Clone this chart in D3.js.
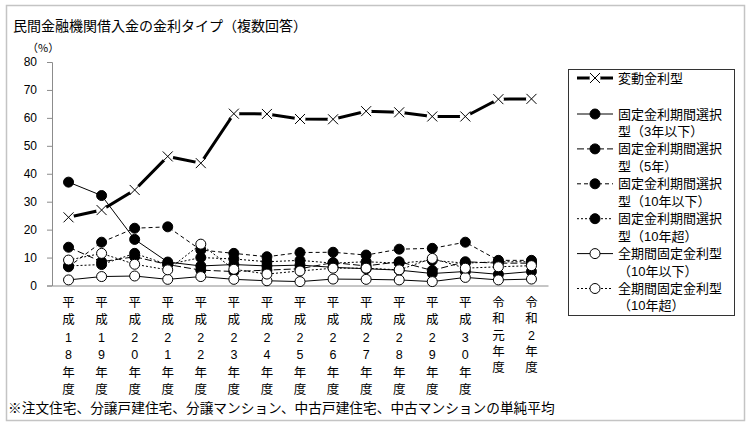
<!DOCTYPE html>
<html><head><meta charset="utf-8">
<script src="https://cdn.jsdelivr.net/npm/d3@7"></script>
<style>
html,body{margin:0;padding:0;background:#fff;}
text{font-family:"Noto Sans CJK JP","Liberation Sans",sans-serif;fill:#000;}
.num{font-family:"Liberation Sans",Arial,sans-serif;}
.stack{font-family:"Liberation Sans","Noto Sans CJK JP",sans-serif;}
</style></head>
<body><svg id="c" width="750" height="427"></svg>
<script>
const title = "民間金融機関借入金の金利タイプ（複数回答）";
const unitLabel = "（%）";
const footnote = "※注文住宅、分譲戸建住宅、分譲マンション、中古戸建住宅、中古マンションの単純平均";
const categories = ["平成18年度","平成19年度","平成20年度","平成21年度","平成22年度","平成23年度","平成24年度","平成25年度","平成26年度","平成27年度","平成28年度","平成29年度","平成30年度","令和元年度","令和2年度"];
const yTicks = [0,10,20,30,40,50,60,70,80];

const seriesNames = ["変動金利型","固定金利期間選択型（3年以下）","固定金利期間選択型（5年）","固定金利期間選択型（10年以下）","固定金利期間選択型（10年超）","全期間固定金利型（10年以下）","全期間固定金利型（10年超）"];
const legendLines = [["変動金利型"],["固定金利期間選択","型（3年以下）"],["固定金利期間選択","型（5年）"],["固定金利期間選択","型（10年以下）"],["固定金利期間選択","型（10年超）"],["全期間固定金利型","（10年以下）"],["全期間固定金利型","（10年超）"]];

const hendo      = [24.4, 27.0, 34.2, 46.2, 43.8, 61.5, 61.4, 59.6, 59.5, 62.4, 62.0, 60.5, 60.5, 66.7, 66.8];
const kotei3     = [37.0, 32.2, 16.5, 8.4, 7.0, 7.5, 7.0, 7.3, 6.5, 6.0, 5.5, 4.3, 5.0, 4.0, 5.0];
const kotei5     = [13.7, 8.5, 10.3, 7.5, 5.5, 5.0, 5.5, 6.0, 8.2, 7.0, 8.5, 5.4, 8.5, 8.0, 8.0];
const kotei10    = [6.7, 15.5, 20.5, 21.0, 12.7, 11.5, 10.3, 11.8, 11.9, 10.9, 13.0, 13.3, 15.5, 9.0, 9.0];
const kotei10over= [7.0, 7.5, 11.5, 7.5, 10.0, 9.5, 8.5, 9.0, 8.0, 8.5, 8.0, 9.0, 8.0, 8.5, 8.5];
const zenki10    = [2.0, 3.2, 3.4, 2.2, 3.2, 2.2, 1.7, 1.4, 2.3, 2.2, 2.0, 1.4, 2.9, 2.0, 2.3];
const zenki10over= [9.1, 11.5, 7.6, 5.6, 14.8, 5.8, 4.1, 5.2, 6.2, 6.2, 5.6, 9.7, 6.2, 6.7, 7.1];

const allValues = [hendo, kotei3, kotei5, kotei10, kotei10over, zenki10, zenki10over];
const styles = [
  {w:3, dash:null, marker:"x"},
  {w:1, dash:null, marker:"black"},
  {w:1, dash:"7,3", marker:"black"},
  {w:1, dash:"4,3", marker:"black"},
  {w:1, dash:"2,2", marker:"black"},
  {w:1, dash:null, marker:"white"},
  {w:1, dash:"2,2", marker:"white"}
];

const svg = d3.select("#c");
svg.append("rect").attr("x",6.5).attr("y",5.5).attr("width",738).attr("height",415)
  .attr("fill","none").attr("stroke","#c4c4c4").attr("stroke-width",1.5);

svg.append("text").attr("x",13).attr("y",25).attr("dominant-baseline","central")
  .style("font-size","14px").text(title);
svg.append("text").attr("x",27).attr("y",47).attr("dominant-baseline","central")
  .style("font-size","11px").text(unitLabel);

const x = d3.scaleBand().domain(categories).range([52,548]);
const y = d3.scaleLinear().domain([0,80]).range([285.5,62]);
const cx = c => x(c) + x.bandwidth()/2;

const yAxis = svg.append("g").attr("transform","translate(52,0)")
  .call(d3.axisLeft(y).tickValues(yTicks).tickSize(5).tickPadding(10).tickFormat(d3.format("d")));
yAxis.select(".domain").attr("stroke","#8c8c8c");
yAxis.selectAll(".tick line").attr("stroke","#8c8c8c");
yAxis.selectAll("text").attr("class","num").style("font-size","12px").attr("fill","#000");

const xAxis = svg.append("g").attr("transform","translate(0,285.5)")
  .call(d3.axisBottom(x).tickSize(0).tickFormat(""));
xAxis.select(".domain").attr("stroke","#8c8c8c");

categories.forEach(c => {
  const chars = Array.from(c);
  const step = chars.length >= 6 ? 17.4 : 16.3;
  const g = svg.append("g");
  chars.forEach((ch,i) => {
    g.append("text").attr("class","stack").attr("x",cx(c)).attr("y",303 + i*step)
      .attr("text-anchor","middle").attr("dominant-baseline","central")
      .style("font-size","12.5px").text(ch);
  });
});

function drawMarker(g, type, px, py){
  if(type === "x"){
    g.append("circle").attr("cx",px).attr("cy",py).attr("r",5.5).attr("fill","#fff");
    const s = 5;
    g.append("path").attr("d",`M${px-s},${py-s}L${px+s},${py+s}M${px-s},${py+s}L${px+s},${py-s}`)
      .attr("stroke","#000").attr("stroke-width",1).attr("fill","none");
  } else {
    g.append("circle").attr("cx",px).attr("cy",py).attr("r",5)
      .attr("fill", type === "black" ? "#000" : "#fff")
      .attr("stroke","#000").attr("stroke-width",1);
  }
}

const line = d3.line().x((d,i)=>cx(categories[i])).y(d=>y(d));
const order = [1,2,3,4,5,6,0];
order.forEach(si => {
  const vals = allValues[si], st = styles[si];
  const g = svg.append("g");
  g.append("path").datum(vals).attr("d",line).attr("fill","none")
    .attr("stroke","#000").attr("stroke-width",st.w)
    .attr("stroke-dasharray",st.dash);
  vals.forEach((v,i)=> drawMarker(g, st.marker, cx(categories[i]), y(v)));
});

const lg = svg.append("g");
lg.append("rect").attr("x",568.5).attr("y",69.5).attr("width",166).attr("height",246)
  .attr("fill","#fff").attr("stroke","#333").attr("stroke-width",1);
legendLines.forEach((lines, si) => {
  const st = styles[si];
  const yy = si === 0 ? 78 : 114 + (si-1)*2*17.45;
  lg.append("line").attr("x1",577).attr("x2",613).attr("y1",yy).attr("y2",yy)
    .attr("stroke","#000").attr("stroke-width",st.w).attr("stroke-dasharray",st.dash);
  drawMarker(lg, st.marker, 595, yy);
  lines.forEach((t,k) => {
    lg.append("text").attr("class","stack").attr("x",618).attr("y",yy + k*17.45).attr("dominant-baseline","central")
      .style("font-size","13px").text(t);
  });
});

svg.append("text").attr("x",8).attr("y",407).attr("dominant-baseline","central")
  .style("font-size","13.7px").text(footnote);
</script></body></html>
